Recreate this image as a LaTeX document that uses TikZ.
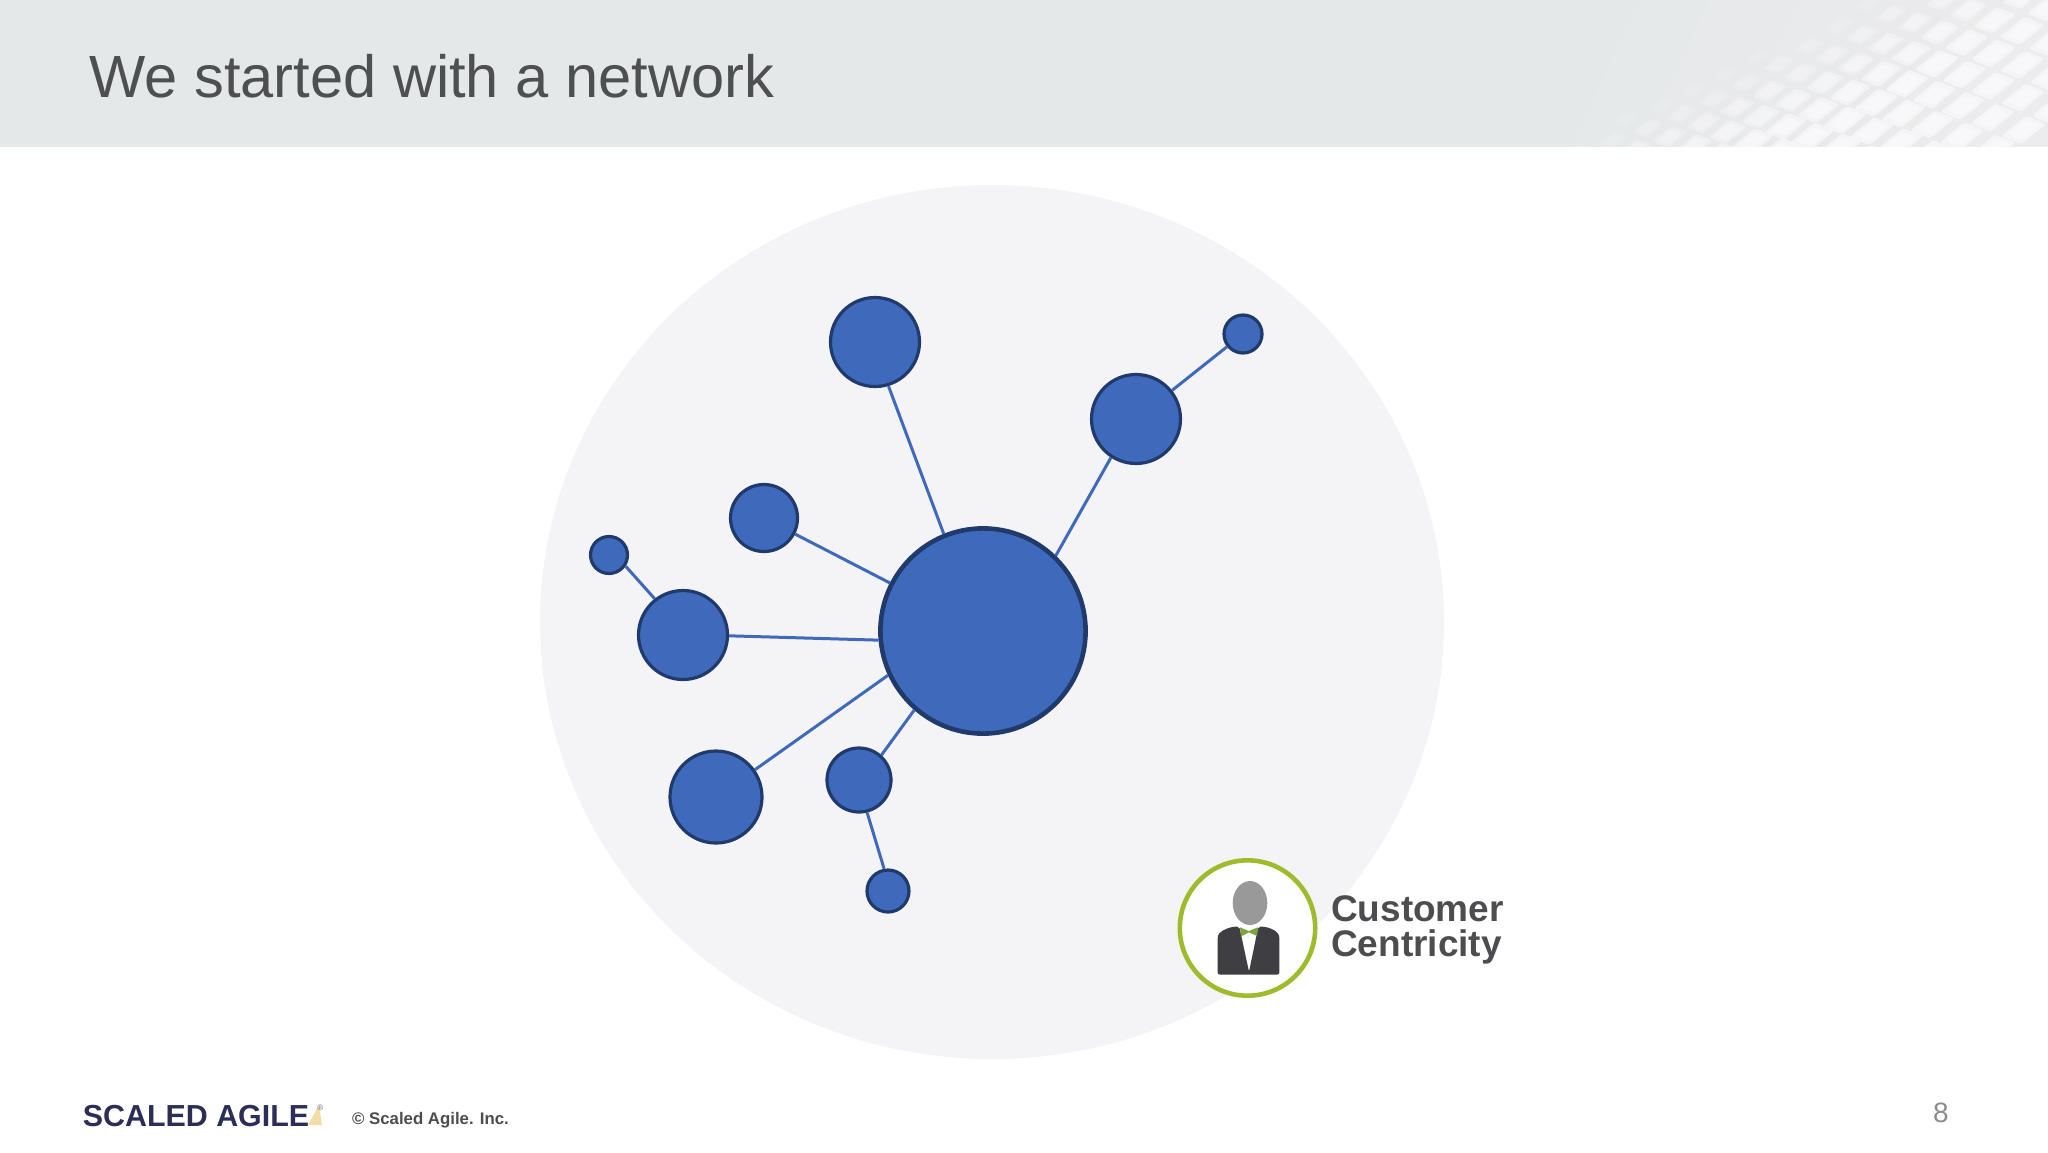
\documentclass[tikz,border=0pt]{standalone}
\usepackage{fontspec}
\setmainfont{Liberation Sans}
\usetikzlibrary{positioning}
\usetikzlibrary{shapes}

\definecolor{headgrey}{HTML}{E4E8E8}
\definecolor{meshgrey}{HTML}{ECEBED}
\definecolor{meshlight}{HTML}{FAF9FC}
\definecolor{discgrey}{HTML}{F4F4F6}
\definecolor{nodeblue}{HTML}{3F69BB}
\definecolor{nodeedge}{HTML}{203A6C}
\definecolor{textgrey}{HTML}{4D4F50}
\definecolor{labelgrey}{HTML}{4D4D4F}
\definecolor{ringgreen}{HTML}{9DBB2B}
\definecolor{bowgreen}{HTML}{7CA53B}
\definecolor{suitgrey}{HTML}{3F3F43}
\definecolor{logonavy}{HTML}{2B2E57}
\definecolor{logotan}{HTML}{F2DDA6}

\tikzset{
  netnode/.style={circle,draw=nodeedge,fill=nodeblue,line width=1.6pt,inner sep=0pt,minimum size=#1},
  netline/.style={draw=nodeblue,line width=1.5pt},
}

\begin{document}
\begin{tikzpicture}[x=0.5pt,y=-0.5pt]
    \useasboundingbox (0,0) rectangle (2048,1152);

    % Header band
    \fill[headgrey] (0,0) rectangle (2048,147);
    \begin{scope}
      \clip (0,0) rectangle (2048,146.5);
      \shade[left color=headgrey,right color=meshgrey,shading angle=65] (1480,0) rectangle (2048,147);
      \foreach \i in {-3,...,20} {
        \foreach \j in {-3,...,10} {
          \pgfmathsetmacro{\cx}{2022-28*\i+0.6*\i*\i-28*\j-0.4*\j*\j}
          \pgfmathsetmacro{\cy}{31-11*\i+0.25*\i*\i+23*\j-0.6*\j*\j}
          \pgfmathsetmacro{\fadeval}{max(0,min(1,(\cx-1550-2*(147-\cy))/220))}
          \foreach \blur in {1,0.72} {
            \pgfmathsetmacro{\sa}{0.36*\blur*(0.6+0.4*\fadeval)}
            \pgfmathsetmacro{\sb}{0.44*\blur*(0.6+0.4*\fadeval)}
            \fill[meshlight,opacity=0.7*\fadeval,rounded corners=1.5pt]
              (\cx-28*\sa-28*\sb,\cy-11*\sa+23*\sb) --
              (\cx+28*\sa-28*\sb,\cy+11*\sa+23*\sb) --
              (\cx+28*\sa+28*\sb,\cy+11*\sa-23*\sb) --
              (\cx-28*\sa+28*\sb,\cy-11*\sa-23*\sb) -- cycle;
          }
        }
      }
    \end{scope}
    \node [anchor=base west,inner sep=0pt,text=textgrey,font=\fontsize{29.8}{32}\selectfont] (title) at (89,97) {We started with a network};

    % Place nodes
    \node [ellipse,fill=discgrey,inner sep=0pt,minimum width=452pt,minimum height=437pt] (disc) at (992,622) {};
    \node [netnode=102.6pt,line width=2.3pt] (hub) at (983,631) {};
    \node [netnode=44.5pt] (top) at (875,342) {};
    \node [netnode=44.5pt] (upright) at (1136,419) {};
    \node [netnode=19pt] (farright) at (1243,334) {};
    \node [netnode=33.5pt] (upleft) at (764,518) {};
    \node [netnode=18.5pt] (farleft) at (609,555) {};
    \node [netnode=44.5pt] (left) at (683,635) {};
    \node [netnode=46pt] (lowleft) at (716,797) {};
    \node [netnode=32pt] (low) at (859,780) {};
    \node [netnode=21pt] (bottom) at (888,891) {};

    % Connect nodes
    \draw [netline] (hub.112) -- (top.-73);
    \draw [netline] (hub.46.6) -- (upright.237);
    \draw [netline] (upright) -- (farright);
    \draw [netline] (hub) -- (upleft);
    \draw [netline] (left.128) -- (farleft.-34);
    \draw [netline] (hub.185) -- (left.-1);
    \draw [netline] (hub.205.6) -- (lowleft.35);
    \draw [netline] (hub.229.6) -- (low.48);
    \draw [netline] (low.-76) -- (bottom.100);

    % Customer badge
    \node [circle,draw=ringgreen,fill=white,line width=2.3pt,inner sep=0pt,minimum size=67.7pt] (badge) at (1247.5,928) {};
    \fill[suitgrey,rounded corners=1pt] (1217.7,974.5) -- (1217.7,940) .. controls (1217.7,931) and (1226,929) .. (1232.7,926.7)
      -- (1239.3,926.7) -- (1249,971.7) -- (1258.3,926.7) -- (1265,926.7)
      .. controls (1272,929) and (1279.3,931) .. (1279.3,940) -- (1279.3,974.5) -- cycle;
    \node [ellipse,fill=black!40,inner sep=0pt,minimum width=17.3pt,minimum height=22pt] (head) at (1250,903) {};
    \fill[bowgreen] (1240,927.3) -- (1248.8,931) -- (1258,927.3) -- (1257,936) -- (1248.8,932.3) -- (1241,936.5) -- cycle;
    \node [right=6pt of badge,xshift=0.6pt,yshift=-0.8pt,inner sep=0pt,align=left,text=labelgrey,font=\fontsize{18.5}{17.5}\selectfont\bfseries] (label) {Customer\\Centricity};

    % Footer
    \node [anchor=base west,inner sep=0pt,text=logonavy,font=\fontsize{15.2}{15}\selectfont\bfseries] (logo) at (82.5,1126) {SCALED AGILE};
    \fill[logotan] (308,1125) -- (322,1125) -- (319,1105) -- cycle;
    \node [anchor=base west,inner sep=0pt,text=logonavy!70,font=\fontsize{4}{4}\selectfont] (mark) at (317,1110) {®};
    \node [anchor=base west,inner sep=0pt,text=labelgrey,font=\fontsize{8.4}{10}\selectfont\bfseries] (copy) at (351.7,1124) {© Scaled Agile. Inc.};
    \node [anchor=base,inner sep=0pt,text=black!45,font=\fontsize{14}{16}\selectfont] (page) at (1941,1122) {8};
\end{tikzpicture}
\end{document}
